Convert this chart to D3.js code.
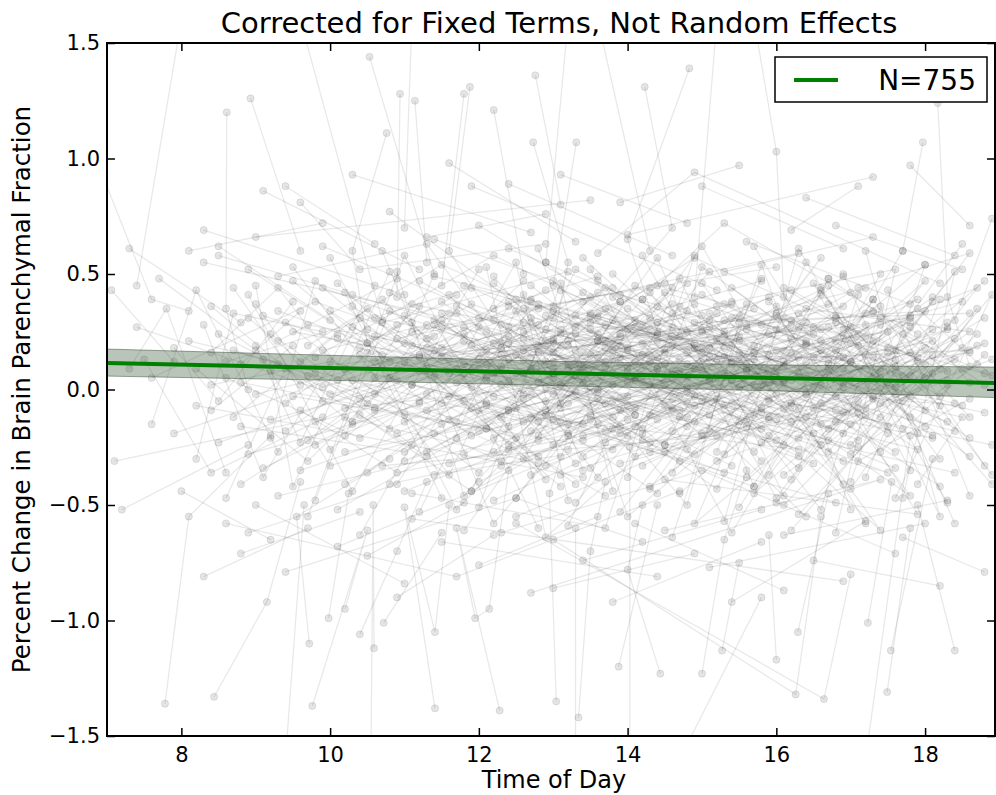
<!DOCTYPE html>
<html>
<head>
<meta charset="utf-8">
<script src="https://cdn.jsdelivr.net/npm/d3@7"></script>
<style>
  body { margin: 0; background: #fff; }
  svg { display: block; font-family: "DejaVu Sans", sans-serif; }
</style>
</head>
<body>
<div id="chart"></div>
<script>
// fit line and its confidence band
const fitHours = [7, 10, 13, 16, 18.94];
const fitValues = [0.115, 0.093, 0.071, 0.050, 0.028];
const fitLower = [0.058, 0.040, 0.017, -0.006, -0.035];
const fitUpper = [0.175, 0.148, 0.122, 0.106, 0.097];

const xTicks = [8, 10, 12, 14, 16, 18];
const yTicks = [-1.5, -1.0, -0.5, 0.0, 0.5, 1.0, 1.5];
const legendLabel = "N=755";

// one row per subject: hour, change, hour, change, ...
const subjects = [
  [9.1,.32,13.4,-.15,16.8,.21],[10.2,-.41,12.7,.08],[8.6,.12,11.9,.44,15.3,-.07],[14.2,.03,17.5,-.36,11.1,.19],
  [12.4,.61,15.9,.15],[9.7,-.22,10.8,.05,13.9,.38],[16.3,-.54,18.1,.07],[11.5,.27,14.7,-.12,12.2,-.48],
  [8.3,.55,12.9,.21],[13.1,-.08,16.6,.43,17.9,-.19],[8.1,.21,12.6,-.14,15.2,.33],[9.4,-.06,10.9,.28],
  [11.2,.47,13.8,.02,17.1,-.25],[12.9,-.33,16.4,.12],[7.6,.05,9.8,.38,14.1,-.11],[10.5,.16,15.7,-.42],
  [13.3,.24,14.9,.57,18.2,.09],[8.9,-.28,11.6,-.03],[14.6,-.18,17.8,.31,12.1,.06],[9.9,.62,13.1,.19],
  [15.4,.04,16.9,-.31],[10.1,-.52,12.4,-.09,16.2,.22],[11.8,.11,18.5,-.07],[8.4,.36,10.3,-.15,13.6,.42],
  [12.2,-.21,14.4,.14],[16.7,.48,18.8,.02],[9.2,.08,15.1,.27,17.4,-.12],[13.7,-.46,11.3,-.02],
  [7.9,-.19,12.8,.35],[14.9,.18,16.1,-.08,18.3,.29],[10.7,.29,13.2,.51],[11.4,-.37,15.6,-.16],
  [12.6,.07,17.2,.44,14.3,-.27],[8.7,.44,9.6,.02],[15.8,-.23,17.6,.13],[10.4,-.11,11.9,-.44,14.8,.06],
  [13.5,.33,16.5,.01],[9.1,-.34,12.3,.15,18.1,-.21],[11.1,.02,13.9,-.19],[14.2,.39,15.3,.72,17.9,.24],
  [7.4,.27,10.6,-.08],[12.7,-.12,16.8,-.49],[9.7,.19,11.5,.54,14.5,.11],[13.0,.09,18.6,.17],
  [10.2,-.27,15.9,.08,12.0,.31],[16.0,.26,17.3,-.04],[8.2,-.07,13.4,-.38],[11.7,.36,14.0,.03,16.6,.41],
  [12.5,-.55,15.5,-.14],[9.5,.47,10.8,.12,13.7,-.06],[14.7,-.09,18.4,-.36],[10.9,.22,16.3,.59],
  [13.8,.13,11.0,-.31,15.0,.16],[8.8,.03,12.1,-.17],[17.0,-.28,18.7,.11],[9.3,-.46,14.6,-.04,16.4,.29],
  [11.3,.18,12.9,.43],[15.2,.06,17.7,-.17,13.6,.21],[10.0,.34,11.8,-.05],[12.4,.27,14.1,-.29,18.0,.05],
  [7.7,.48,9.0,.17],[13.2,-.15,16.7,.09],[10.6,.05,15.4,.37,12.8,-.22],[14.4,.45,17.5,.18],
  [8.5,-.23,11.2,.08,13.3,-.41],[16.2,-.06,18.9,-.24],[11.6,-.13,14.8,.25],[9.8,.14,12.2,.58,15.7,.02],
  [13.9,-.32,17.1,-.05],[10.3,.41,16.5,-.19],
  [12.0,.71,14.3,.26,11.4,.49],[9.0,.66,13.5,.82],[15.6,.64,17.8,.37],[10.8,.77,12.6,.35,16.0,.53],
  [8.3,.69,11.0,.41],[13.6,.59,14.9,.94,18.2,.46],[16.8,.71,18.5,.52],[11.9,.88,15.2,.43],
  [9.6,.81,10.4,.52,12.9,.63],[14.0,.67,17.3,.92],[12.3,-.62,15.0,-.35,17.6,-.71],[10.1,-.68,13.1,-.29],
  [8.6,-.58,11.7,-.81,14.7,-.44],[16.1,-.63,18.3,-.48],[13.4,-.74,15.8,-.52],[9.4,-.79,12.5,-.47,14.2,-.66],
  [11.1,-.56,16.9,-.83],[14.5,-.61,17.4,-.39,12.7,-.88],[10.5,-.72,11.8,-.49],[15.1,-.77,18.0,-.58],
  [8.0,-.44,9.2,-.65],[7.3,.61,8.8,.29],[7.1,-.31,9.9,-.12],[7.5,.13,8.4,-.36,11.3,.09],
  [6.9,.96,7.6,.39,8.1,.34],[7.2,-.52,8.9,-.24],[7.06,.43,7.9,.12],
  [12.1,.04,13.0,-.24,14.6,.19],[13.3,.11,15.9,-.12],[11.5,-.06,14.2,.15,16.8,-.03],[12.8,.19,13.9,.38],
  [14.1,-.16,15.6,.09,17.2,.28],[10.9,-.19,12.3,.02],[13.6,.05,16.3,-.26,12.0,-.09],[11.0,.12,14.9,-.07],
  [15.3,.23,16.6,-.15,18.4,.13],[12.6,-.04,13.7,.28],[10.6,.31,14.0,.08,15.7,.35],[13.1,-.37,17.0,.04],
  [11.8,.24,12.9,-.11,16.1,.17],[14.8,.01,18.1,.21],[9.8,-.14,13.4,.16],[12.4,.13,15.5,.31,17.7,.06],
  [10.2,.09,11.6,.33],[14.5,-.24,16.9,-.1,13.0,.12],[11.3,-.27,12.7,-.02],[15.0,.41,17.5,.03],
  [13.8,-.05,14.7,-.31,16.4,-.02],[12.2,.35,13.6,.49],[10.7,-.33,15.2,-.2],[16.5,.14,17.9,.39,14.3,.02],
  [11.9,-.08,13.2,.21],[9.5,.25,12.5,.07,14.4,-.13],[13.5,.26,15.8,.47],[12.0,-.18,16.7,.11],
  [10.4,.18,13.9,-.09,15.4,-.33],[14.9,.29,18.6,.33],[11.4,.06,12.8,-.29],[13.1,.43,16.2,.04,17.4,.31],
  [10.0,-.02,14.1,.27],[12.9,.01,15.1,-.11],[11.7,-.21,13.3,.06,14.6,.37],[16.0,-.13,17.6,-.34],
  [9.6,-.09,10.9,-.36,13.7,-.18],[15.5,.12,18.8,-.1],[12.3,-.33,14.8,-.06],[13.0,.31,11.2,.14,16.6,.26],
  [14.3,-.42,15.9,-.05],[10.8,.42,12.1,.17],[13.4,-.2,17.3,.14,15.6,-.38],[11.1,.25,14.5,.46],
  [12.7,.45,13.8,.17,16.1,-.24],[9.3,.11,11.5,-.15],[15.7,.19,17.0,.42],[14.0,-.03,12.4,-.26,10.3,.04],
  [13.2,.09,16.9,.36],[11.0,-.44,13.5,-.13,15.3,.07],
  [8.2,.09,9.7,-.31,11.4,.23],[8.7,-.12,10.1,.24],[9.0,.37,9.9,-.05,12.6,.29],[8.9,.52,10.7,.15],
  [9.4,.29,12.0,-.36],[8.4,.16,9.3,.44,10.5,-.06],[17.2,-.08,18.6,.25,16.4,.35],[17.6,.17,18.9,-.37],
  [18.1,.38,16.7,-.22],[17.9,-.41,18.5,-.12,16.0,.06],[18.3,.02,17.1,.19],[16.9,.22,18.7,.44,17.8,.06],
  [18.8,.15,17.4,-.27],[16.3,.33,18.0,-.09],
  [8.5,.62,10.0,.3],[9.1,.86,11.2,.52],[10.3,.93,12.7,.68],[11.6,.98,13.3,.64],[12.4,.89,14.6,.58],
  [13.9,.81,15.5,.97],[15.0,.88,16.9,.61],[16.4,.83,18.4,.58],[17.3,.66,15.3,.51],[18.6,.71,17.8,.97],
  [14.8,.72,13.1,.93],[9.9,.72,8.1,.6],[12.9,.76,11.3,.66],[16.2,.69,17.1,.88],[10.6,.63,9.4,.88],
  [8.3,-.81,9.7,-.6],[9.0,-.5,11.0,-.84],[10.9,-.9,12.2,-.63],[12.0,-.76,13.6,-.55],[13.0,-.86,14.9,-.71],
  [14.1,-.58,16.1,-.87],[15.4,-.92,17.2,-.57],[16.5,-.74,18.2,-.85],[17.7,-.64,18.8,-.79],[11.5,-.66,14.4,-.81],
  [15.8,-.66,13.8,-.92],[8.8,-.71,10.4,-.53],
  [7.78,-1.36,8.1,-.55,9.2,-.2],[8.44,-1.33,9.15,-.92,9.6,-.4],[9.76,-1.37,10.5,-.61,10.2,-.95],
  [9.72,-1.1,9.55,-.55,10.8,-.3],[9.98,-.99,10.25,-.45],[10.4,-1.06,10.9,-.7,11.3,-.4],
  [10.59,-1.12,10.58,-.5,10.55,-1.55],[10.72,-1.01,11.5,-.62],[11.41,-1.38,11.0,-.51,11.41,-1.05,11.6,-.5],
  [12.28,-1.39,11.7,-.6,11.95,-.99,12.14,-.95,12.4,-.35],[13.04,-1.35,12.95,-.45,13.2,-.2],
  [13.34,-1.42,13.5,-.7,13.7,-.4],[13.88,-1.2,14.4,-.5],[14.44,-1.23,14.0,-.78,14.2,-.5],
  [15.0,-1.23,15.3,-.65,15.6,-.35],[15.27,-1.13,15.5,-.75],[16.0,-1.17,15.9,-.63],[16.29,-1.05,16.7,-.45],
  [13.0,-.65,16.26,-1.32,16.6,-.55],[12.5,-.58,16.64,-1.34,17.0,-.8],[17.23,-1.01,17.55,-.4],
  [17.49,-1.31,17.8,-.6],[17.54,-1.13,18.1,-.3],[18.4,-1.13,17.9,-.5],[14.7,-1.6,15.8,-.9],
  [9.4,-1.6,9.65,-.5],[17.2,-1.6,17.8,-.2],[14.03,-1.6,14.03,-.25],[13.3,-1.6,13.3,-.6],
  [10.53,1.44,11.4,.5,11.0,.2],[8.61,1.2,8.6,.35,8.9,.0],[8.93,1.26,9.6,.6],[10.94,1.28,10.9,.4],
  [11.88,1.31,11.6,.6,12.2,.3],[12.76,1.36,13.1,.8],[11.14,1.25,11.3,.55],[10.76,1.11,10.3,.6,10.5,.2],
  [12.2,1.21,12.6,.5],[11.8,1.28,11.5,.45],[12.73,1.07,13.2,.55,13.0,.2],[8.0,1.6,7.4,.45],
  [9.6,1.6,10.7,.3],[11.1,1.6,11.0,.7],[13.2,1.6,12.9,.55],[13.6,1.6,14.3,.6],[15.2,1.6,14.9,.4],
  [15.7,1.6,16.0,1.03,16.1,.4],[14.83,1.39,14.0,.65,14.4,.25],[14.23,1.31,14.6,.7,13.8,.4],
  [13.31,1.07,13.0,.45],[17.97,1.07,17.7,.6],[18.17,1.24,18.3,.4,18.6,.1],[18.9,.74,18.4,.3]
];

// the dense core of the cloud, near zero change
const subjectsCore = [
  [8.6,.05,10.4,-.21,12.3,.18],[9.2,-.13,11.7,.09,14.9,-.28],[10.1,.22,13.6,-.04],[11.3,-.09,12.9,.26,15.7,.13],
  [12.8,.16,14.2,-.17],[13.7,-.23,15.1,.04,17.3,.21],[14.6,.08,16.9,-.19],[15.9,-.04,17.8,.16,18.6,-.12],
  [16.7,.27,18.2,-.03],[17.5,-.16,15.4,.11],[8.9,.31,9.8,.07,11.1,-.24],[9.6,-.35,12.1,-.07],
  [10.6,.12,11.9,.37,14.4,.09],[11.8,-.28,13.3,-.01],[12.5,.39,15.3,.14,16.8,-.09],[13.2,-.06,14.7,.23],
  [14.0,.18,16.2,.43,18.0,.11],[15.2,-.31,17.1,-.08],[16.4,.06,17.9,-.26,14.8,-.01],[17.7,.24,18.8,.07],
  [8.4,-.09,9.5,.19],[9.9,.44,12.6,.13,13.9,-.16],[10.8,-.17,14.3,.31],[11.5,.33,12.4,.03,16.0,-.22],
  [12.0,-.4,13.8,-.12],[13.5,.29,17.4,.08,15.6,.26],[14.3,-.11,16.6,.17],[15.5,.21,18.3,-.14],
  [16.1,-.37,17.6,-.02,18.7,.19],[17.3,.34,15.0,.18],[8.8,-.41,10.2,-.12,12.8,-.32],[9.3,.21,10.9,.48],
  [10.4,-.04,13.0,.21,14.6,-.09],[11.2,.15,15.8,.28],[12.3,-.12,13.6,.33,17.0,.12],[13.9,.41,16.4,.19],
  [14.8,-.26,15.9,.03,18.4,-.18],[15.6,.08,12.7,-.18],[16.8,-.14,18.1,.26],[17.9,.12,16.3,-.29,14.1,.05],
  [9.0,-.02,11.4,.17],[10.3,.36,12.2,-.03,15.1,.18],[11.6,-.32,14.0,-.13],[12.9,.12,16.1,.31,17.7,-.05],
  [13.4,-.29,14.5,.02],[14.7,.36,17.2,-.11],[15.8,-.17,13.1,.24,11.9,.08],[16.6,.21,18.5,.38],
  [17.4,-.06,18.9,.13],[9.7,.28,13.5,.06],[10.0,-.26,11.1,.02,12.7,.29],[11.9,.19,14.8,-.16],
  [12.2,.46,13.7,.12,16.5,.27],[13.6,-.15,15.3,-.36],[14.4,.24,17.6,.01],[15.0,-.05,16.8,.32,18.2,-.07],
  [16.2,.16,14.2,-.22],[17.1,-.31,18.6,-.04],[8.7,.17,12.5,-.21,11.0,.32],[9.4,-.18,10.7,.11],
  [10.9,.04,13.2,-.19,15.5,.23],[12.4,-.24,14.1,.04],[13.0,.36,16.0,.09,17.3,.39],[14.2,-.33,15.7,-.11],
  [15.4,.31,17.9,.14],[16.5,-.08,18.4,.22,17.0,-.24],[17.8,.29,16.1,.12],[11.7,.03,13.4,.42],
  [12.1,-.06,14.5,-.27,16.3,.07],[13.3,.17,15.2,.36],[14.9,-.14,18.0,.18,16.6,-.06],[10.5,.26,12.0,.09],
  [11.4,-.19,13.9,.11,15.0,-.2],[12.6,.22,14.0,-.07],[13.8,.07,16.7,-.17,17.5,.16],[15.1,.14,13.5,-.34],
  [16.3,-.21,18.3,.04],[9.1,.13,10.0,-.33,12.9,-.05],[10.7,.39,11.5,.14],[11.0,-.11,15.4,.12,13.7,.35],
  [12.7,-.37,14.6,-.08],[13.1,.02,17.0,-.15,18.5,.09],[14.5,.16,15.9,.4],[15.7,-.27,17.2,.23,16.4,-.01],
  [9.8,-.24,11.2,-.06],[12.3,.28,13.0,.05,14.8,.34],[13.6,-.01,16.5,-.32],[14.1,.12,15.6,-.13,17.8,.27],
  [11.1,.29,12.4,-.16],[10.2,-.08,14.7,.08,16.2,-.14],[12.8,-.2,13.9,.24],[15.3,.37,17.4,.05,18.8,.31],
  [16.9,.03,14.4,.29],[8.5,.24,9.9,.01,11.8,.21],[13.2,.19,15.8,.02],[14.0,-.2,12.5,.15,16.9,.14],
  [11.6,.41,13.1,-.14],[12.0,.13,15.0,.26,17.5,-.19],[14.6,.33,16.0,.17],[10.8,-.41,13.4,-.22,15.2,-.04],
  [12.9,.32,14.3,.15],[13.5,-.11,17.1,.24,16.1,.44],[11.3,.08,12.6,.47],[15.9,.24,18.1,-.2],
  [9.5,-.03,13.8,-.26,14.9,.09],[12.2,.07,13.3,-.32],[14.2,.27,15.5,.01,18.6,.16],[16.7,-.27,17.6,.07],
  [10.4,.15,11.9,-.2,13.6,.14],[13.7,.21,14.8,.46],[12.5,-.08,16.4,.2,15.1,-.18],[11.8,.45,14.4,.21],
  [13.0,-.13,15.7,.16,17.3,-.03],[14.7,-.03,12.1,.25],[15.6,.28,18.0,.34,16.8,.09],[12.4,.2,13.5,.01],
  [13.9,-.04,16.2,.28,14.5,.18],[12.6,.25,13.2,.11,14.1,.3],[13.4,.09,14.6,.27],[12.8,.03,13.7,.18,15.0,.08],
  [13.1,.26,14.3,.12],[12.3,.1,14.9,.2,13.6,.0],[14.0,.35,15.4,.19,12.7,.31],[13.3,.32,14.2,.06],
  [12.9,-.09,13.8,.3,14.7,.13],[11.5,.18,12.8,.28],[15.2,.22,16.0,-.02,14.4,.36],[10.9,.09,12.4,.23,11.7,-.14],
  [16.1,.1,17.0,.27],[9.9,.17,11.3,.28,10.6,-.02],[17.2,.15,18.3,.26,16.6,.02],[8.8,.11,9.6,.34],
  [13.5,.15,14.8,-.12,16.3,.14],[11.2,-.05,12.2,.2],[14.5,-.07,15.3,.25,16.7,.37],[12.0,.27,13.0,.16,13.8,.44],
  [10.3,.27,11.6,.07],
  [9.2,.24,10.1,.04,11.2,.36],[10.3,-.14,11.5,.3,12.6,-.02],[11.3,.22,12.4,.38,13.4,.03],[12.1,-.17,13.3,.27,14.3,.44],
  [13.0,.22,14.1,-.08,15.3,.18],[14.0,.1,15.1,.3,16.3,-.08],[15.0,.25,16.1,.04,17.2,.33],[16.0,.32,17.1,-.1,18.1,.15],
  [9.6,.12,10.5,.35,11.9,.01],[10.6,-.09,11.8,.27,12.7,.14],[11.7,.33,12.8,-.14,13.9,.23],[12.7,.39,13.6,.21,14.8,.05],
  [13.8,.2,14.9,.37,15.8,-.1],[14.8,.16,15.9,-.2,16.9,.26],[15.9,.38,16.8,.17,17.8,-.12],[16.9,.09,17.8,.32,18.6,.03]
];

// the wider band of the cloud, about half a percent either side
const subjectsSpread = [
  [8.3,.28,9.1,-.38,10.6,.45],[8.6,-.47,9.4,.09,11.3,-.29],[8.9,.41,10.3,-.44,12.0,.52],[9.2,-.21,9.8,.47,13.1,-.42],
  [9.5,.53,11.6,-.37,12.7,.38],[9.8,-.48,10.8,.34,14.4,-.45],[10.1,.46,12.9,-.39,11.4,.28],[10.5,-.36,13.7,.44,15.8,-.31],
  [10.9,.51,11.8,-.46,14.2,.39],[11.2,-.53,12.6,.41,13.4,-.35],[11.5,.38,15.2,-.43,16.7,.48],[11.9,-.44,13.3,.52,17.6,-.27],
  [12.2,.49,14.8,-.5,15.5,.29],[12.6,-.3,14.1,.45,18.2,-.42],[12.9,.55,16.3,-.34,17.1,.41],[13.3,-.49,15.6,.37,14.5,-.24],
  [13.6,.47,17.8,-.46,16.0,.33],[14.0,-.38,15.0,.53,18.6,-.29],[14.3,.42,16.6,-.52,17.4,.36],[14.7,-.45,18.0,.47,15.9,-.37],
  [15.1,.33,16.9,-.41,13.8,.5],[15.5,-.51,17.3,.39,18.8,-.33],[15.8,.48,14.6,-.36,16.4,.21],[16.2,-.39,18.4,.51,17.7,-.47],
  [16.6,.44,15.3,-.28,18.1,.4],[17.0,-.43,18.7,.35,16.1,-.5],[17.4,.5,15.7,-.45,18.3,.27],[17.8,-.35,16.5,.46,18.9,-.41],
  [18.2,.39,17.2,-.38],[18.6,-.46,17.5,.43],
  [8.4,.02,10.0,.12,12.4,-.09],[8.8,-.16,11.0,-.27,13.0,.07],[9.3,.34,10.5,.2,11.7,.41],[9.7,.06,12.3,-.31,13.6,.24],
  [10.2,-.2,11.1,.37,14.0,.17],[10.6,.23,12.1,.11,15.4,-.06],[11.0,-.14,13.5,.32,16.1,.03],[11.4,.3,14.3,-.23,17.0,.2],
  [11.8,.07,12.8,.37,15.9,-.13],[12.2,-.27,13.9,.14,16.8,.29],[12.6,.17,15.1,.05,14.2,-.19],[13.0,-.02,14.5,.42,17.6,.1],
  [13.4,.38,16.2,-.07,18.5,.18],[13.8,-.17,15.3,.3,16.9,.01],[14.2,.2,17.1,-.22,18.7,.24],[14.6,.05,16.0,.36,15.2,-.27],
  [15.0,-.19,18.3,.08,17.3,.33],[15.4,.44,16.7,.13,18.0,-.16],[15.8,-.08,17.5,.25,14.8,.11],[16.2,.3,18.9,.06,17.9,.35],
  [16.6,-.24,15.5,.16,18.4,-.06],[17.0,.12,18.6,-.21,16.3,.27],[17.4,.28,16.4,-.12,18.8,.2],[17.8,-.03,16.8,.31,18.2,-.3],
  [12.5,.34,13.1,-.06,13.9,.19],[13.2,-.26,14.0,.26,14.9,-.03],[12.7,.09,13.5,.4,14.6,.23],[13.6,.31,12.3,.2,15.0,.32],
  [14.4,.09,13.0,.34,15.6,.11],[11.6,.13,12.9,.19,14.1,-.11],[13.7,.1,15.2,.13,16.5,.24],[9.0,.19,9.6,-.23,10.4,.31],
  [8.2,-.3,8.7,.33,9.9,.25],[7.9,.18,8.5,-.05,9.5,.38],[7.6,-.15,8.2,.43,9.3,-.27],[7.3,.09,7.8,.35,8.6,-.36],
  [8.5,.58,10.2,.42,11.5,-.47],[8.9,-.62,10.9,-.41,12.4,.36],[9.3,.49,11.3,.63,13.6,-.38],[9.7,-.55,11.0,.58,12.8,-.6],
  [10.0,.57,11.7,-.52,14.6,.44],[10.4,-.63,12.5,.55,13.2,-.48],[10.7,.6,12.2,-.58,15.1,.51],[11.1,-.45,13.7,-.6,14.9,.58],
  [11.4,.65,13.0,.47,16.4,-.55],[11.8,-.61,14.4,.57,15.7,-.42],[12.1,.53,12.9,-.64,16.9,.49],[12.5,-.47,15.0,.62,17.2,-.58],
  [12.8,.61,14.0,-.55,18.0,.54],[13.2,-.59,14.7,.48,16.1,-.46],[13.5,.52,15.4,-.62,17.7,.6],[13.9,-.53,16.6,.57,14.3,-.43],
  [14.2,.58,16.0,-.47,18.5,.63],[14.6,-.64,15.8,.54,17.0,-.52],[15.0,.46,17.4,-.61,13.4,.57],[15.3,-.57,16.3,.61,18.3,-.49],
  [15.7,.62,17.9,-.54,14.5,-.39],[16.0,-.49,18.6,.59,17.1,.44],[16.4,.55,14.9,-.58,18.8,.47],[16.8,-.62,17.6,.52,15.4,.38],
  [17.2,.6,18.2,-.55,16.7,.45],[17.6,-.47,18.9,.41,16.2,-.61],[18.0,.54,17.0,-.4],[18.4,-.58,16.9,.5],
  [9.0,.45,9.5,-.42,10.8,.51],[12.0,-.51,13.1,.46,13.8,-.44]
];

const W = 996, H = 795;
const plotLeft = 107, plotRight = 995, plotTop = 43, plotBottom = 736;

const svg = d3.select("#chart").append("svg")
    .attr("width", W)
    .attr("height", H);

const x = d3.scaleLinear().domain([7, 18.94]).range([plotLeft, plotRight]);
const y = d3.scaleLinear().domain([-1.5, 1.5]).range([plotBottom, plotTop]);

svg.append("clipPath").attr("id", "plot-clip")
  .append("rect")
    .attr("x", plotLeft).attr("y", plotTop)
    .attr("width", plotRight - plotLeft).attr("height", plotBottom - plotTop);

const plot = svg.append("g").attr("clip-path", "url(#plot-clip)");

// subject traces
const traces = subjects.concat(subjectsCore, subjectsSpread)
    .map(s => d3.range(0, s.length, 2).map(i => [s[i], s[i + 1]]));
const line = d3.line().x(d => x(d[0])).y(d => y(d[1]));

plot.append("g").selectAll("path")
    .data(traces)
    .enter().append("path")
    .attr("d", line)
    .attr("fill", "none")
    .attr("stroke", "#000")
    .attr("stroke-opacity", 0.09)
    .attr("stroke-width", 1.3);

plot.append("g").selectAll("circle")
    .data(traces.flat())
    .enter().append("circle")
    .attr("cx", d => x(d[0]))
    .attr("cy", d => y(d[1]))
    .attr("r", 3.6)
    .attr("fill", "#000")
    .attr("fill-opacity", 0.1)
    .attr("stroke", "#000")
    .attr("stroke-opacity", 0.09)
    .attr("stroke-width", 1);

// confidence band + fit
const fit = fitHours.map((h, i) => ({ h, v: fitValues[i], lo: fitLower[i], hi: fitUpper[i] }));

plot.append("path")
    .datum(fit)
    .attr("d", d3.area().x(d => x(d.h)).y0(d => y(d.lo)).y1(d => y(d.hi)))
    .attr("fill", "#3a5a3a")
    .attr("fill-opacity", 0.35)
    .attr("stroke", "#2a402a")
    .attr("stroke-opacity", 0.45)
    .attr("stroke-width", 1);

plot.append("path")
    .datum(fit)
    .attr("d", d3.line().x(d => x(d.h)).y(d => y(d.v)))
    .attr("fill", "none")
    .attr("stroke", "#008000")
    .attr("stroke-width", 4);

// axes, ticks pointing inward on all four sides
const fmt = d3.format(".1f");

const xAxis = svg.append("g")
    .attr("transform", `translate(0,${plotBottom})`)
    .call(d3.axisBottom(x).tickValues(xTicks).tickSize(-8).tickPadding(11).tickFormat(d3.format("d")));
const yAxis = svg.append("g")
    .attr("transform", `translate(${plotLeft},0)`)
    .call(d3.axisLeft(y).tickValues(yTicks).tickSize(-8).tickPadding(7).tickFormat(fmt));
const xTop = svg.append("g")
    .attr("transform", `translate(0,${plotTop})`)
    .call(d3.axisTop(x).tickValues(xTicks).tickSize(-8).tickFormat(""));
const yRight = svg.append("g")
    .attr("transform", `translate(${plotRight},0)`)
    .call(d3.axisRight(y).tickValues(yTicks).tickSize(-8).tickFormat(""));

[xAxis, yAxis, xTop, yRight].forEach(a => {
  a.select(".domain").remove();
  a.selectAll(".tick line").attr("stroke", "#000").attr("stroke-width", 1.5);
  a.selectAll(".tick text")
      .attr("fill", "#000")
      .style("font-family", "DejaVu Sans")
      .style("font-size", "21px");
});

svg.append("rect")
    .attr("x", plotLeft).attr("y", plotTop)
    .attr("width", plotRight - plotLeft).attr("height", plotBottom - plotTop)
    .attr("fill", "none")
    .attr("stroke", "#000")
    .attr("stroke-width", 2);

// texts
svg.append("text")
    .attr("x", 559)
    .attr("y", 33)
    .attr("text-anchor", "middle")
    .style("font-size", "29px")
    .text("Corrected for Fixed Terms, Not Random Effects");

svg.append("text")
    .attr("x", 554)
    .attr("y", 788)
    .attr("text-anchor", "middle")
    .style("font-size", "24px")
    .text("Time of Day");

svg.append("text")
    .attr("transform", `translate(30,${(plotTop + plotBottom) / 2}) rotate(-90)`)
    .attr("text-anchor", "middle")
    .style("font-size", "24.5px")
    .text("Percent Change in Brain Parenchymal Fraction");

// legend
const legend = svg.append("g");
legend.append("rect")
    .attr("x", 775).attr("y", 57)
    .attr("width", 212).attr("height", 45)
    .attr("fill", "#fff")
    .attr("stroke", "#000")
    .attr("stroke-width", 1.5);
legend.append("line")
    .attr("x1", 794).attr("x2", 838)
    .attr("y1", 80).attr("y2", 80)
    .attr("stroke", "#008000")
    .attr("stroke-width", 4);
legend.append("text")
    .attr("x", 976).attr("y", 90)
    .attr("text-anchor", "end")
    .style("font-size", "28px")
    .text(legendLabel);
</script>
</body>
</html>
